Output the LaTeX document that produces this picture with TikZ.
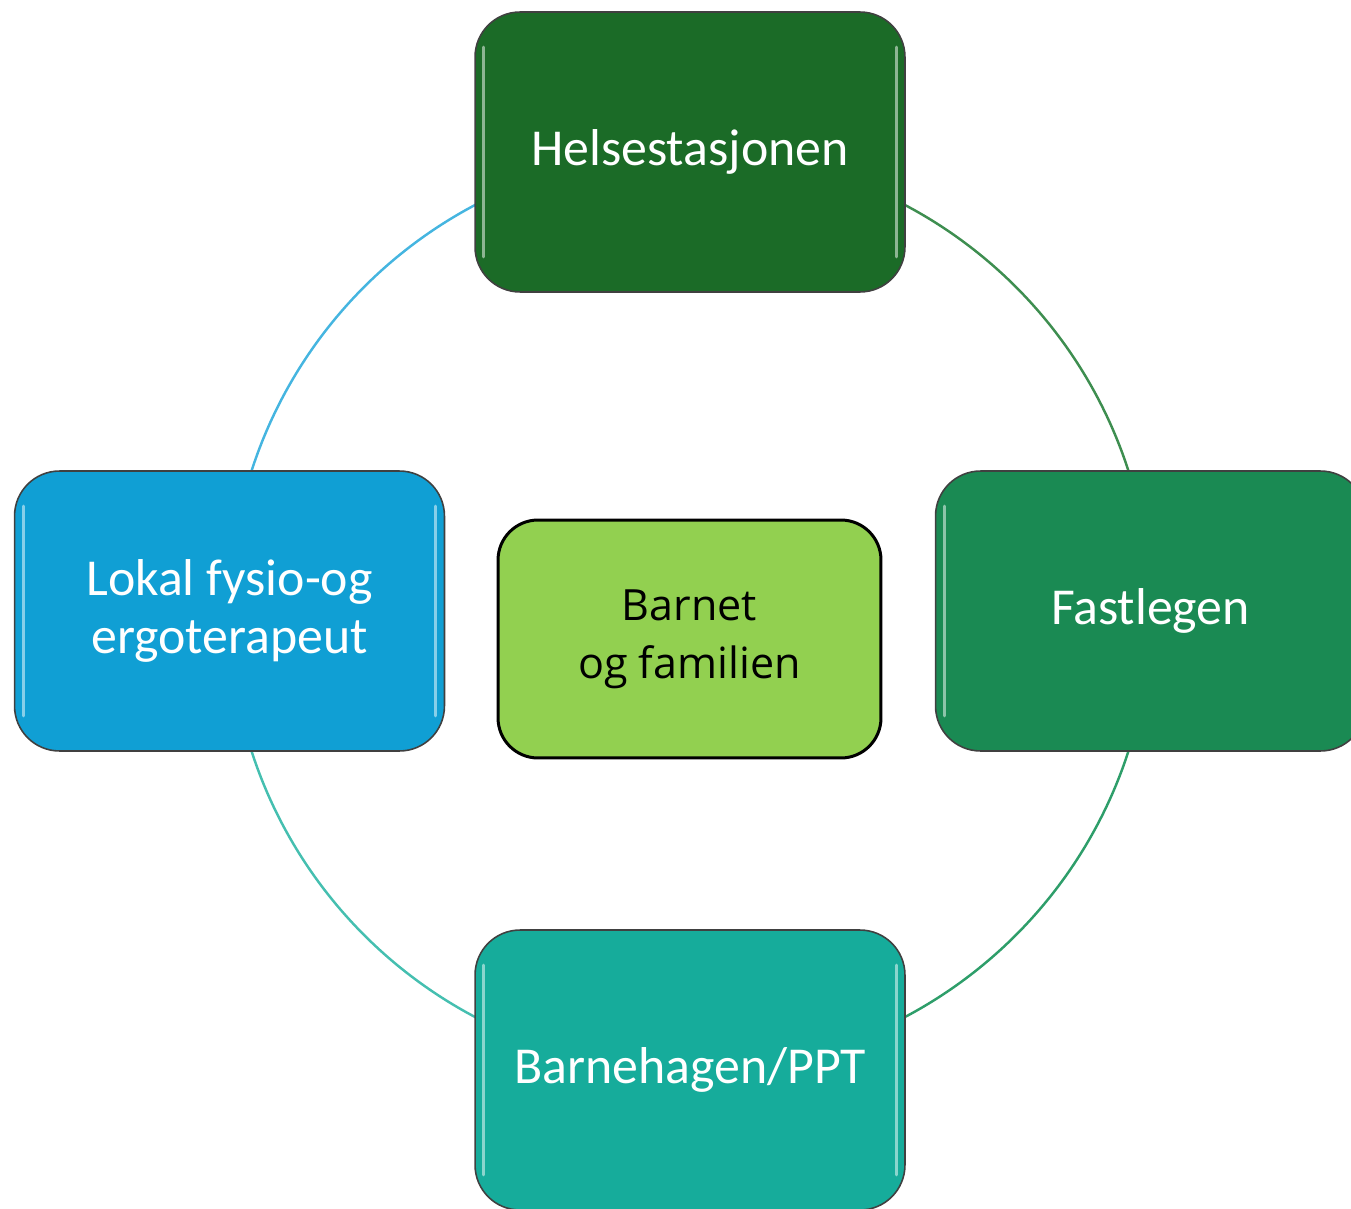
\documentclass[tikz,border=0pt]{standalone}
\usepackage{fontspec}
\setmainfont{Carlito}
\newfontfamily\midfont{Open Sans}
\usetikzlibrary{backgrounds}
\definecolor{helsegreen}{HTML}{1B6B27}
\definecolor{fastgreen}{HTML}{1A8A53}
\definecolor{barneteal}{HTML}{16AC9B}
\definecolor{fysioblue}{HTML}{109FD4}
\definecolor{familygreen}{HTML}{92D050}
\definecolor{arcblue}{HTML}{45B5E0}
\definecolor{arcgreen}{HTML}{3E8E50}
\definecolor{arcmint}{HTML}{2E9E6A}
\definecolor{arcteal}{HTML}{45BFB0}
\tikzset{
  unit/.style={rectangle, rounded corners=0.9cm, draw=black!75, line width=0.9pt,
    minimum width=8.6cm, minimum height=5.6cm, text=white, align=center,
    font=\fontsize{29.5}{32.5}\selectfont,
    path picture={
      \draw[white, opacity=0.5, line width=1.8pt, line cap=round]
        ([xshift=5pt,yshift=-20pt]path picture bounding box.north west) -- ([xshift=5pt,yshift=20pt]path picture bounding box.south west)
        ([xshift=-5pt,yshift=-20pt]path picture bounding box.north east) -- ([xshift=-5pt,yshift=20pt]path picture bounding box.south east);
    }},
  core/.style={rectangle, rounded corners=0.8cm, draw=black, line width=1.7pt,
    fill=familygreen, minimum width=7.66cm, minimum height=4.76cm, align=center,
    font=\midfont\fontsize{24.5}{33}\selectfont},
  ring/.style={line width=1.4pt}
}
\begin{document}
\begin{tikzpicture}[x=0.02cm,y=-0.02cm]
\path[use as bounding box] (0,0) rectangle (1351,1209);
\clip (0,0) rectangle (1351,1209);
% the four services round the child
\node[unit, fill=helsegreen] (helse) at (690,152) {Helsestasjonen};
\node[unit, fill=fastgreen] (fast) at (1150.5,611) {Fastlegen};
\node[unit, fill=barneteal] (barne) at (690,1070) {Barnehagen/PPT};
\node[unit, fill=fysioblue] (fysio) at (229.5,611) {Lokal fysio-og\\ergoterapeut};
\node[core] (barnet) at (689.5,639) {Barnet\\og familien};
% ring behind the boxes
\begin{scope}[on background layer]
\draw[ring, arcgreen] (helse.center) to[bend left=45] (fast.center);
\draw[ring, arcmint] (fast.center) to[bend left=45] (barne.center);
\draw[ring, arcteal] (barne.center) to[bend left=45] (fysio.center);
\draw[ring, arcblue] (fysio.center) to[bend left=45] (helse.center);
\end{scope}
\end{tikzpicture}
\end{document}
